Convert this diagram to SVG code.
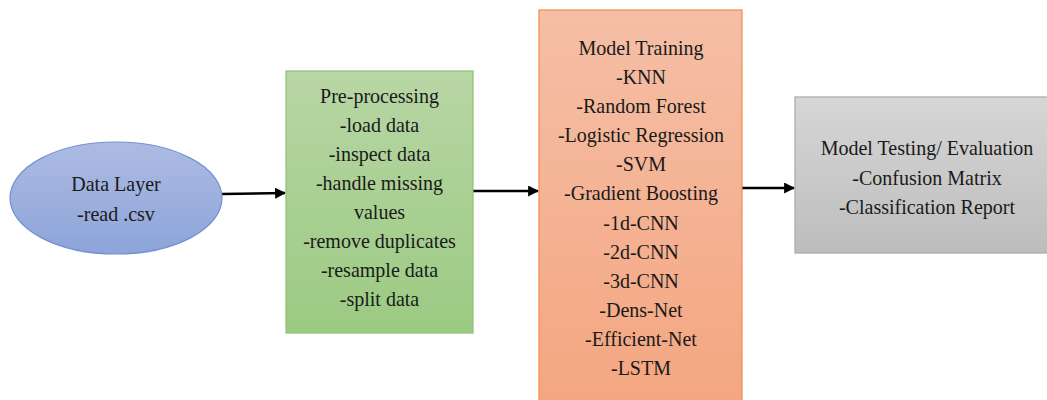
<svg xmlns="http://www.w3.org/2000/svg" width="1047" height="400" viewBox="0 0 1047 400">
<style>
text{font-family:'Liberation Serif','Times New Roman','DejaVu Serif',serif;font-size:22px;fill:#1a1a1a;text-anchor:middle}
.conn{stroke:#000;stroke-width:2.5;fill:none;marker-end:url(#ah)}
</style>
<defs>
<linearGradient id="gBlue" x1="0" y1="0" x2="0" y2="1"><stop offset="0" stop-color="#adbbe2"/><stop offset="1" stop-color="#8da4da"/></linearGradient>
<linearGradient id="gGreen" x1="0" y1="0" x2="0" y2="1"><stop offset="0" stop-color="#b8d6a5"/><stop offset="1" stop-color="#9bca82"/></linearGradient>
<linearGradient id="gOrange" x1="0" y1="0" x2="0" y2="1"><stop offset="0" stop-color="#f5bfa6"/><stop offset="1" stop-color="#f4a681"/></linearGradient>
<linearGradient id="gGray" x1="0" y1="0" x2="0" y2="1"><stop offset="0" stop-color="#d6d6d6"/><stop offset="1" stop-color="#bdbdbd"/></linearGradient>
<marker id="ah" viewBox="0 0 10 10" refX="9" refY="5" markerWidth="4.4" markerHeight="4.4" orient="auto" markerUnits="strokeWidth"><path d="M0,0 L10,5 L0,10 z" fill="#000"/></marker>
</defs>
<g id="connectors">
<line class="conn" x1="222" y1="194" x2="285" y2="193"/>
<line class="conn" x1="473" y1="191" x2="538" y2="191"/>
<line class="conn" x1="742" y1="188" x2="794" y2="188"/>
</g>
<g id="data-layer">
<ellipse cx="116" cy="198" rx="106" ry="56" fill="url(#gBlue)" stroke="#7290d2" stroke-width="1.2"/>
<g transform="translate(116,0) scale(0.91,1)">
<text x="0" y="191" font-family="Liberation Serif, serif">Data Layer</text>
<text x="0" y="221" font-family="Liberation Serif, serif">-read .csv</text>
</g>
</g>
<g id="preprocessing">
<rect x="286" y="71" width="187" height="262" fill="url(#gGreen)" stroke="#8fc072" stroke-width="1.2"/>
<g transform="translate(379.5,0) scale(0.91,1)">
<text x="0" y="103">Pre-processing</text>
<text x="0" y="132">-load data</text>
<text x="0" y="161">-inspect data</text>
<text x="0" y="190">-handle missing</text>
<text x="0" y="219">values</text>
<text x="0" y="248">-remove duplicates</text>
<text x="0" y="277">-resample data</text>
<text x="0" y="306">-split data</text>
</g>
</g>
<g id="model-training">
<rect x="539" y="10" width="203" height="395" fill="url(#gOrange)" stroke="#f08c4e" stroke-width="1.2"/>
<g transform="translate(641,0) scale(0.91,1)">
<text x="0" y="55">Model Training</text>
<text x="0" y="84">-KNN</text>
<text x="0" y="113">-Random Forest</text>
<text x="0" y="142">-Logistic Regression</text>
<text x="0" y="171">-SVM</text>
<text x="0" y="200">-Gradient Boosting</text>
<text x="0" y="230">-1d-CNN</text>
<text x="0" y="259">-2d-CNN</text>
<text x="0" y="288">-3d-CNN</text>
<text x="0" y="317">-Dens-Net</text>
<text x="0" y="346">-Efficient-Net</text>
<text x="0" y="375">-LSTM</text>
</g>
</g>
<g id="model-testing">
<rect x="795" y="97" width="255" height="156" fill="url(#gGray)" stroke="#a8a8a8" stroke-width="1.2"/>
<g transform="translate(927,0) scale(0.91,1)">
<text x="0" y="155">Model Testing/ Evaluation</text>
<text x="0" y="185">-Confusion Matrix</text>
<text x="0" y="214">-Classification Report</text>
</g>
</g>
</svg>
